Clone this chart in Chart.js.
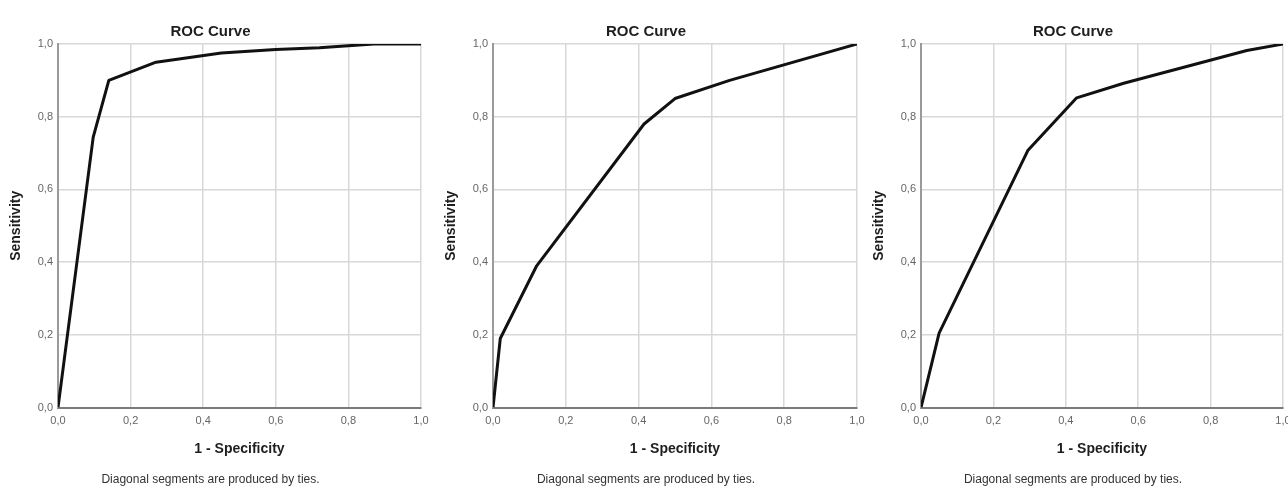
<!DOCTYPE html>
<html>
<head>
<meta charset="utf-8">
<title>ROC Curves</title>
<script src="https://cdn.jsdelivr.net/npm/chart.js@4.4.1/dist/chart.umd.min.js"></script>
<style>
  html, body { margin: 0; padding: 0; background: #fff; }
  body { width: 1288px; height: 489px; position: relative; overflow: hidden; }
  canvas { position: absolute; top: 0; }
</style>
</head>
<body>
<canvas id="roc-1" width="430" height="489" style="left:0px"></canvas>
<canvas id="roc-2" width="431" height="489" style="left:435px"></canvas>
<canvas id="roc-3" width="425" height="489" style="left:863px"></canvas>

<script>
// ═══════════════════════════════════════
// DATA
// ═══════════════════════════════════════
const tickValues = [0, 0.2, 0.4, 0.6, 0.8, 1.0];

const fpr1 = [0, 0.097, 0.14, 0.27, 0.45, 0.6, 0.72, 0.87, 1.0];
const tpr1 = [0, 0.744, 0.90, 0.95, 0.975, 0.985, 0.99, 1.0, 1.0];

const fpr2 = [0, 0.02, 0.12, 0.415, 0.5, 0.65, 1.0];
const tpr2 = [0, 0.19, 0.39, 0.78, 0.85, 0.90, 1.0];

const fpr3 = [0, 0.05, 0.295, 0.43, 0.56, 0.9, 1.0];
const tpr3 = [0, 0.205, 0.707, 0.852, 0.892, 0.982, 1.0];

const chartTitle = 'ROC Curve';
const xTitle = '1 - Specificity';
const yTitle = 'Sensitivity';
const footnote = 'Diagonal segments are produced by ties.';

// ═══════════════════════════════════════
// HELPERS
// ═══════════════════════════════════════
const FONT = '"Liberation Sans", Arial, sans-serif';
const commaTick = v => tickValues.some(t => Math.abs(t - v) < 1e-9) ? v.toFixed(1).replace('.', ',') : '';

function toPoints(xs, ys) {
  return xs.map((x, i) => ({ x: x, y: ys[i] }));
}

function axis(isX) {
  return {
    type: 'linear',
    min: 0,
    max: 1,
    ticks: {
      stepSize: 0.2,
      padding: isX ? 7 : 5,
      color: '#666',
      font: { family: FONT, size: 11 },
      callback: commaTick,
      maxRotation: 0,
    },
    grid: { color: '#d8d8d8', lineWidth: 1.5, drawTicks: false },
    border: { color: isX ? '#7a7a7a' : '#9a9a9a', width: 2 },
    title: {
      display: true,
      text: isX ? xTitle : yTitle,
      color: '#1e1e1e',
      font: { family: FONT, size: 14, weight: 'bold', lineHeight: 1.2 },
      padding: isX ? { top: 0, bottom: 15 } : { top: 8, bottom: 0 },
    },
    // fix the axis boxes so the plot area lands where the reference has it
    afterFit: s => {
      if (isX) { s.height = 65; s.paddingLeft = 0; s.paddingRight = 0; }
      else { s.width = 58; s.paddingTop = 0; s.paddingBottom = 0; }
    },
  };
}

function makeRoc(id, xs, ys, padRight) {
  const ctx = document.getElementById(id).getContext('2d');
  return new Chart(ctx, {
    type: 'scatter',
    data: {
      datasets: [{
        data: toPoints(xs, ys),
        showLine: true,
        borderColor: '#111',
        borderWidth: 3,
        borderJoinStyle: 'round',
        pointRadius: 0,
        tension: 0,
      }],
    },
    options: {
      responsive: false,
      animation: false,
      layout: { padding: { left: 0, right: padRight, top: 23, bottom: 2 } },
      plugins: {
        legend: { display: false },
        tooltip: { enabled: false },
        title: {
          display: true,
          text: chartTitle,
          color: '#1e1e1e',
          font: { family: FONT, size: 15, weight: 'bold', lineHeight: 1.2 },
          padding: { top: 0, bottom: 3 },
        },
        subtitle: {
          display: true,
          position: 'bottom',
          text: footnote,
          color: '#333',
          font: { family: FONT, size: 12, lineHeight: 1.2 },
          padding: 0,
        },
      },
      scales: { x: axis(true), y: axis(false) },
    },
  });
}

// ═══════════════════════════════════════
// INIT
// ═══════════════════════════════════════
makeRoc('roc-1', fpr1, tpr1, 9);
makeRoc('roc-2', fpr2, tpr2, 9);
makeRoc('roc-3', fpr3, tpr3, 5);
</script>
</body>
</html>
